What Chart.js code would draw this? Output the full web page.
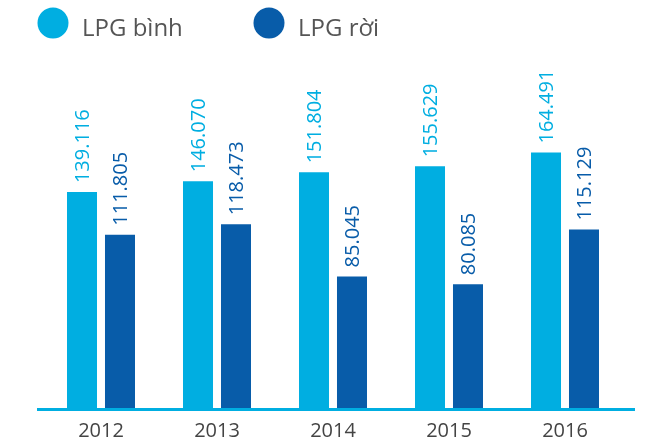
<!DOCTYPE html>
<html>
<head>
<meta charset="utf-8">
<script src="https://cdn.jsdelivr.net/npm/chart.js@4.4.1/dist/chart.umd.min.js"></script>
<style>
  html, body { margin: 0; padding: 0; background: #ffffff; }
  #wrap { position: relative; width: 650px; height: 441px; }
</style>
</head>
<body>
<div id="wrap"><canvas id="lpgChart" width="650" height="441"></canvas></div>
<script>
        // Data
        const years = ['2012', '2013', '2014', '2015', '2016'];
        const lpgBinh = [139116, 146070, 151804, 155629, 164491];
        const lpgRoi = [111805, 118473, 85045, 80085, 115129];
        const seriesNames = ['LPG bình', 'LPG rời'];

        const lightBlue = '#00aee1';
        const darkBlue = '#085ca9';
        const fontFamily = '"Open Sans", "DejaVu Sans", sans-serif';

        function formatValue(v) {
            return String(v).replace(/\B(?=(\d{3})+(?!\d))/g, '.');
        }

        // Rotated value labels above each bar
        const valueLabels = {
            id: 'valueLabels',
            afterDatasetsDraw(chart) {
                const ctx = chart.ctx;
                chart.data.datasets.forEach((ds, i) => {
                    const meta = chart.getDatasetMeta(i);
                    meta.data.forEach((bar, j) => {
                        ctx.save();
                        ctx.translate(bar.x, bar.y - 9);
                        ctx.rotate(-Math.PI / 2);
                        ctx.font = '20px ' + fontFamily;
                        ctx.fillStyle = ds.backgroundColor;
                        ctx.textAlign = 'left';
                        ctx.textBaseline = 'middle';
                        ctx.fillText(formatValue(ds.data[j]), 0, 1);
                        ctx.restore();
                    });
                });
            }
        };

        // Baseline under the bars, a bit wider than the plot area
        const baseline = {
            id: 'baseline',
            afterDatasetsDraw(chart) {
                const { ctx, chartArea } = chart;
                ctx.save();
                ctx.strokeStyle = lightBlue;
                ctx.lineWidth = 3;
                ctx.beginPath();
                ctx.moveTo(chartArea.left - 6, chartArea.bottom + 0.5);
                ctx.lineTo(chartArea.right + 12, chartArea.bottom + 0.5);
                ctx.stroke();
                ctx.restore();
            }
        };

        // Legend with big round markers at the top left
        const circleLegend = {
            id: 'circleLegend',
            afterDraw(chart) {
                const ctx = chart.ctx;
                const items = [
                    { x: 53, color: lightBlue },
                    { x: 269, color: darkBlue }
                ];
                items.forEach((item, i) => {
                    ctx.save();
                    ctx.fillStyle = item.color;
                    ctx.beginPath();
                    ctx.arc(item.x, 23, 15.5, 0, Math.PI * 2);
                    ctx.fill();
                    ctx.font = '24px ' + fontFamily;
                    ctx.fillStyle = '#555555';
                    ctx.textAlign = 'left';
                    ctx.textBaseline = 'alphabetic';
                    ctx.fillText(chart.data.datasets[i].label, item.x + 29, 36);
                    ctx.restore();
                });
            }
        };

        const ctx = document.getElementById('lpgChart').getContext('2d');
        new Chart(ctx, {
            type: 'bar',
            data: {
                labels: years,
                datasets: [
                    {
                        label: seriesNames[0],
                        data: lpgBinh,
                        backgroundColor: lightBlue,
                        categoryPercentage: 0.655,
                        barPercentage: 0.79
                    },
                    {
                        label: seriesNames[1],
                        data: lpgRoi,
                        backgroundColor: darkBlue,
                        categoryPercentage: 0.655,
                        barPercentage: 0.79
                    }
                ]
            },
            options: {
                responsive: false,
                animation: false,
                layout: {
                    padding: { top: 66, left: 43, right: 27, bottom: -12 }
                },
                plugins: {
                    legend: { display: false },
                    tooltip: { enabled: false }
                },
                scales: {
                    x: {
                        grid: { display: false, drawTicks: false },
                        border: { display: false },
                        ticks: {
                            color: '#444444',
                            padding: 10,
                            font: { family: fontFamily, size: 20 }
                        }
                    },
                    y: {
                        display: false,
                        min: 0,
                        max: 220000
                    }
                }
            },
            plugins: [valueLabels, baseline, circleLegend]
        });
</script>
</body>
</html>
